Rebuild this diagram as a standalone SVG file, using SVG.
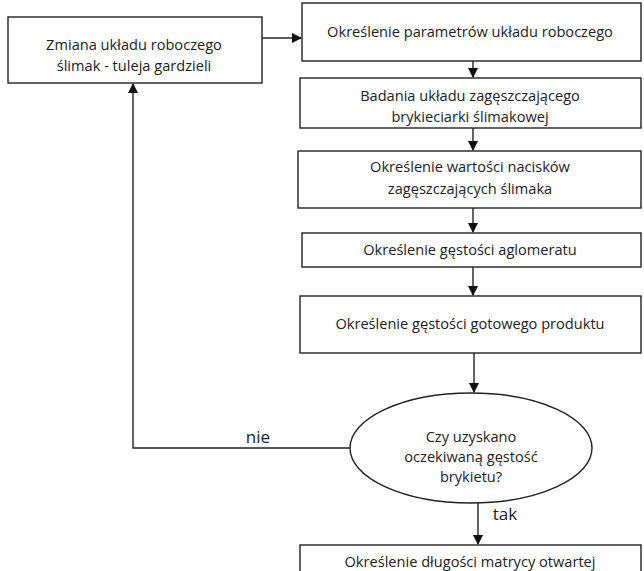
<svg xmlns="http://www.w3.org/2000/svg" width="644" height="571" viewBox="0 0 644 571">
<defs>
<style>
.box{fill:#fff;stroke:#222;stroke-width:1.4}
.t{font-family:"Open Sans","Liberation Sans",sans-serif;font-size:14.6px;fill:#222;text-anchor:middle}
.lbl{font-family:"Open Sans","Liberation Sans",sans-serif;font-size:17px;fill:#222;text-anchor:middle}
.c{fill:none;stroke:#222;stroke-width:1.4}
</style>
<marker id="ah" markerWidth="10" markerHeight="10" refX="9" refY="5" orient="auto" markerUnits="userSpaceOnUse">
<path d="M0,0 L10,5 L0,10 Z" fill="#111"/>
</marker>
</defs>
<rect width="644" height="571" fill="#fff"/>
<g id="connectors">
<line class="c" x1="262" y1="38" x2="301" y2="38" marker-end="url(#ah)"/>
<line class="c" x1="473" y1="61" x2="473" y2="77" marker-end="url(#ah)"/>
<line class="c" x1="473" y1="128" x2="473" y2="150" marker-end="url(#ah)"/>
<line class="c" x1="473" y1="208" x2="473" y2="232" marker-end="url(#ah)"/>
<line class="c" x1="473" y1="267" x2="473" y2="295" marker-end="url(#ah)"/>
<line class="c" x1="474" y1="353" x2="474" y2="392" marker-end="url(#ah)"/>
<line class="c" x1="478" y1="503" x2="478" y2="544" marker-end="url(#ah)"/>
<polyline class="c" points="350,448 133,448 133,84" marker-end="url(#ah)"/>
<text class="lbl" x="258" y="443">nie</text>
<text class="lbl" x="505" y="520">tak</text>
</g>
<g id="n0">
<rect class="box" x="8" y="17" width="254" height="66"/>
<text class="t" x="134" y="50">Zmiana układu roboczego</text>
<text class="t" x="134" y="71">ślimak - tuleja gardzieli</text>
</g>
<g id="n1">
<rect class="box" x="302" y="3" width="339" height="58"/>
<text class="t" x="470" y="37">Określenie parametrów układu roboczego</text>
</g>
<g id="n2">
<rect class="box" x="300" y="78" width="341" height="50"/>
<text class="t" x="470" y="101">Badania układu zagęszczającego</text>
<text class="t" x="470" y="122">brykieciarki ślimakowej</text>
</g>
<g id="n3">
<rect class="box" x="298" y="151" width="343" height="57"/>
<text class="t" x="470" y="172">Określenie wartości nacisków</text>
<text class="t" x="470" y="194">zagęszczających ślimaka</text>
</g>
<g id="n4">
<rect class="box" x="302" y="233" width="339" height="34"/>
<text class="t" x="470" y="255">Określenie gęstości aglomeratu</text>
</g>
<g id="n5">
<rect class="box" x="300" y="296" width="341" height="57"/>
<text class="t" x="470" y="329">Określenie gęstości gotowego produktu</text>
</g>
<g id="n6">
<ellipse class="box" cx="471" cy="448" rx="121" ry="55"/>
<text class="t" x="471" y="442">Czy uzyskano</text>
<text class="t" x="471" y="462">oczekiwaną gęstość</text>
<text class="t" x="471" y="482">brykietu?</text>
</g>
<g id="n7">
<rect class="box" x="300" y="545" width="341" height="40"/>
<text class="t" x="470" y="567">Określenie długości matrycy otwartej</text>
</g>
</svg>
